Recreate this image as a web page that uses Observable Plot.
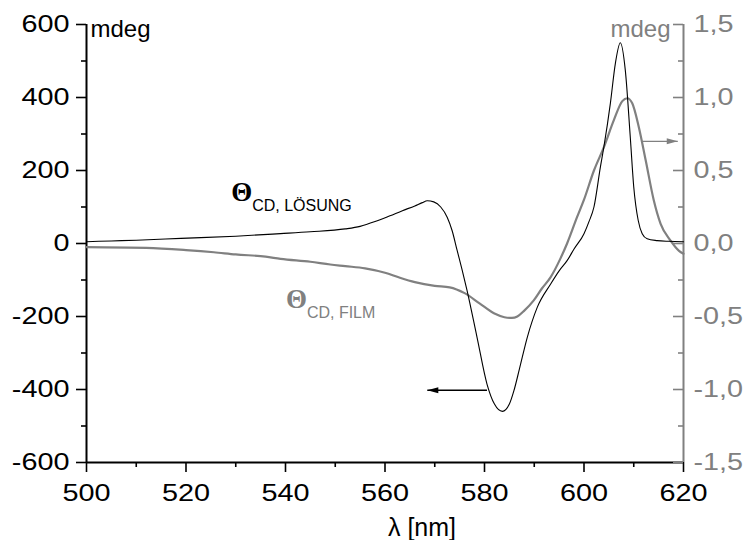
<!DOCTYPE html>
<html>
<head>
<meta charset="utf-8">
<script src="https://cdn.jsdelivr.net/npm/d3@7"></script>
<script src="https://cdn.jsdelivr.net/npm/@observablehq/plot@0.6"></script>
<style>
  html, body { margin: 0; padding: 0; background: #fff; }
  #chart svg { display: block; }
</style>
</head>
<body>
<div id="chart"></div>
<script>
// ---- Data ----
// Θ_CD, Lösung (left axis, mdeg)
const wavelengthLoesung = [500, 505, 510, 519, 530, 539, 545, 552, 555, 558, 561, 563.5, 566, 567.5, 568.5, 569.8, 571.2, 572.5, 573.5, 574.5, 575.5, 576.5, 578.5, 580.5, 582, 583.6, 585, 585.9, 587, 588.6, 590.6, 593.3, 595, 596.6, 598, 600, 601, 602, 603.3, 604, 605.3, 606.3, 607.3, 608.3, 609.3, 610, 610.9, 611.7, 612.7, 614.7, 617, 620];
const cdLoesung        = [5, 7, 9, 14, 20, 27, 32, 40, 47, 60, 76, 90, 103, 112, 117, 114, 100, 72, 35, -19, -72, -129, -257, -385, -440, -460, -440, -404, -345, -257, -175, -111, -75, -47, -15, 27, 60, 100, 210, 265, 384, 493, 550, 475, 292, 155, 63, 27, 13, 8, 6, 5];

// Θ_CD, Film (right axis units)
const wavelengthFilm = [500, 512, 520, 525.6, 530, 536, 539, 545, 549, 552, 556, 560, 563, 566, 570, 573, 576, 579, 582, 584, 585.5, 586.6, 588, 589.9, 591.5, 593.3, 595.3, 596.6, 598.6, 600, 602, 604, 606, 607.7, 608.7, 609.7, 611, 612.4, 614, 615.4, 617.4, 619.1, 620];
const cdFilm         = [-0.025, -0.03, -0.045, -0.06, -0.075, -0.09, -0.105, -0.125, -0.144, -0.155, -0.17, -0.20, -0.235, -0.265, -0.29, -0.30, -0.34, -0.41, -0.48, -0.505, -0.51, -0.50, -0.46, -0.39, -0.31, -0.23, -0.10, 0.0, 0.18, 0.30, 0.50, 0.66, 0.845, 0.975, 0.995, 0.96, 0.80, 0.57, 0.30, 0.135, 0.02, -0.05, -0.07];

// Axes
const xTicks = [500, 520, 540, 560, 580, 600, 620];
const xMinorTicks = [510, 530, 550, 570, 590, 610];
const leftTicks = [-600, -400, -200, 0, 200, 400, 600];
const leftMinorTicks = [-500, -300, -100, 100, 300, 500];
const rightTicks = [-1.5, -1.0, -0.5, 0.0, 0.5, 1.0, 1.5];
const rightMinorTicks = [-1.25, -0.75, -0.25, 0.25, 0.75, 1.25];
const rightPerLeft = 400; // left mdeg per 1 unit of right axis

// Text annotations
const xTitle = "λ [nm]";
const unitLabel = "mdeg";
const thetaLabels = [
  {x: 529.1, y: 117, text: "Θ", color: "black"},
  {x: 540.1, y: -178, text: "Θ", color: "gray"}
];
const subLabels = [
  {x: 533.3, y: 90, text: "CD, LÖSUNG", color: "black"},
  {x: 544.3, y: -203, text: "CD, FILM", color: "gray"}
];
// Arrows pointing to each curve's axis
const arrows = [
  {x1: 580.5, x2: 568.5, y: -402, color: "black", dir: "left"},
  {x1: 611.7, x2: 618.85, y: 0.70 * 400, color: "gray", dir: "right"}
];

// ---- Build ----
const GRAY = "#808080";
const colorOf = c => c === "gray" ? GRAY : "#000";
const loesung = wavelengthLoesung.map((x, i) => ({x, y: cdLoesung[i]}));
const film = wavelengthFilm.map((x, i) => ({x, y: cdFilm[i] * rightPerLeft}));

const headLeft = {draw(ctx) { ctx.moveTo(0, 0); ctx.lineTo(11, -3); ctx.lineTo(11, 3); ctx.closePath(); }};
const headRight = {draw(ctx) { ctx.moveTo(0, 0); ctx.lineTo(-11, -3); ctx.lineTo(-11, 3); ctx.closePath(); }};

const font = "'Liberation Sans', Arial, Helvetica, sans-serif";
const serif = "'Liberation Serif', 'Times New Roman', serif";

const chart = Plot.plot({
  width: 747,
  height: 540,
  marginLeft: 86,
  marginRight: 64,
  marginTop: 24,
  marginBottom: 78,
  x: {domain: [500, 620]},
  y: {domain: [-600, 600]},
  style: {fontFamily: font, fontSize: "24px", background: "white", color: "black", overflow: "visible"},
  marks: [
    // x axis
    Plot.axisX({ticks: xTicks, tickSize: 10, tickPadding: 11, tickFormat: d => String(d), label: null, strokeWidth: 1.6, fontSize: 24}),
    Plot.axisX({ticks: xMinorTicks, tickSize: 5, tickFormat: () => "", label: null, strokeWidth: 1.6}),
    // left axis
    Plot.axisY({anchor: "left", ticks: leftTicks, tickSize: 10, tickPadding: 7, tickFormat: d => String(d), label: null, strokeWidth: 1.6, fontSize: 24}),
    Plot.axisY({anchor: "left", ticks: leftMinorTicks, tickSize: 5, tickFormat: () => "", label: null, strokeWidth: 1.6}),
    // right axis labels
    Plot.axisY({anchor: "right", ticks: rightTicks.map(v => v * rightPerLeft), tickSize: 0, tickPadding: 10,
      tickFormat: d => (d / rightPerLeft).toFixed(1).replace(".", ","), label: null, color: GRAY, fill: GRAY, fontSize: 24}),
    // axis lines
    Plot.ruleX([500], {stroke: "black", strokeWidth: 2}),
    Plot.ruleY([-600], {stroke: "black", strokeWidth: 2}),
    Plot.ruleX([620], {stroke: GRAY, strokeWidth: 2}),
    // right axis inward ticks
    Plot.tickY(rightTicks, {y: d => d * rightPerLeft, insetLeft: 587, stroke: GRAY, strokeWidth: 1.6}),
    Plot.tickY(rightMinorTicks, {y: d => d * rightPerLeft, insetLeft: 592, stroke: GRAY, strokeWidth: 1.6}),
    // curves
    Plot.line(film, {x: "x", y: "y", stroke: GRAY, strokeWidth: 2.2, curve: "monotone-x"}),
    Plot.line(loesung, {x: "x", y: "y", stroke: "black", strokeWidth: 1.1, curve: "monotone-x"}),
    // arrows
    Plot.link(arrows, {x1: "x1", x2: "x2", y1: "y", y2: "y", stroke: d => colorOf(d.color), strokeWidth: 1.3}),
    Plot.dot(arrows.filter(d => d.dir === "left"), {x: "x2", y: "y", symbol: headLeft, r: 5, fill: d => colorOf(d.color), stroke: "none"}),
    Plot.dot(arrows.filter(d => d.dir === "right"), {x: "x2", y: "y", symbol: headRight, r: 5, fill: d => colorOf(d.color), stroke: "none"}),
    // curve labels
    Plot.text(thetaLabels, {x: "x", y: "y", text: "text", fill: d => colorOf(d.color), fontSize: 27, fontFamily: serif, fontWeight: "bold", textAnchor: "start", lineAnchor: "bottom"}),
    Plot.text(subLabels, {x: "x", y: "y", text: "text", fill: d => colorOf(d.color), fontSize: 16, textAnchor: "start", lineAnchor: "bottom"}),
    // unit labels and x title
    Plot.text([unitLabel], {frameAnchor: "top-left", dx: 4, dy: 12, text: d => d, textAnchor: "start", lineAnchor: "bottom", fontSize: 24, fill: "black", ariaLabel: "unit"}),
    Plot.text([unitLabel], {frameAnchor: "top-right", dx: -13, dy: 12, text: d => d, textAnchor: "end", lineAnchor: "bottom", fontSize: 24, fill: GRAY, ariaLabel: "unit"}),
    Plot.text([xTitle], {frameAnchor: "bottom", dx: 37, dy: 73, text: d => d, textAnchor: "middle", lineAnchor: "bottom", fontSize: 25, fill: "black", ariaLabel: "unit"})
  ]
});

document.getElementById("chart").appendChild(chart);

// Horizontal stretch of axis texts to match the reference's wide lettering
const stretch = 1.2;
chart.querySelectorAll('g[aria-label$="tick label"] text, g[aria-label="unit"] text').forEach(t => {
  const len = t.getComputedTextLength();
  if (len > 0) {
    t.setAttribute("textLength", (len * stretch).toFixed(1));
    t.setAttribute("lengthAdjust", "spacingAndGlyphs");
  }
});
</script>
</body>
</html>
